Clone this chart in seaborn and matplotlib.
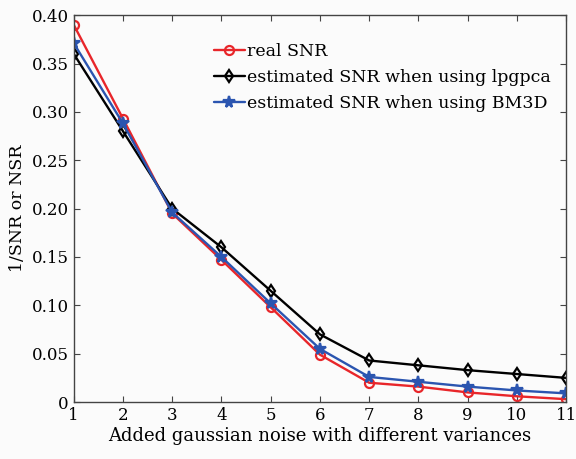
import matplotlib
matplotlib.use("Agg")
import matplotlib.pyplot as plt
import seaborn as sns
import pandas as pd

x_vals = [1, 2, 3, 4, 5, 6, 7, 8, 9, 10, 11]
real_snr = [0.390, 0.293, 0.195, 0.147, 0.098, 0.049, 0.020, 0.016, 0.010, 0.006, 0.003]
lpgpca_snr = [0.360, 0.280, 0.200, 0.160, 0.115, 0.070, 0.043, 0.038, 0.033, 0.029, 0.025]
bm3d_snr = [0.371, 0.288, 0.196, 0.150, 0.102, 0.055, 0.026, 0.021, 0.016, 0.012, 0.009]
labels = ["real SNR", "estimated SNR when using lpgpca", "estimated SNR when using BM3D"]
y_ticks = [0, 0.05, 0.10, 0.15, 0.20, 0.25, 0.30, 0.35, 0.40]
y_ticklabels = ["0", "0.05", "0.10", "0.15", "0.20", "0.25", "0.30", "0.35", "0.40"]

sns.set_style("ticks")
plt.rcParams['font.family'] = ['DejaVu Serif']
plt.rcParams['mathtext.fontset'] = 'dejavuserif'
plt.rcParams['text.color'] = 'black'
plt.rcParams['axes.labelcolor'] = 'black'
plt.rcParams['xtick.color'] = '#444444'
plt.rcParams['ytick.color'] = '#444444'
plt.rcParams['xtick.labelcolor'] = 'black'
plt.rcParams['ytick.labelcolor'] = 'black'

fig = plt.figure(figsize=(5.76, 4.59), dpi=100, facecolor="#fbfbfb")
ax = fig.add_axes([0.128, 0.124, 0.855, 0.843])
ax.set_facecolor("#fbfbfb")

series = [
    (real_snr, "#e8262a", "o", "none", 6.5),
    (lpgpca_snr, "black", "d", "none", 6.3),
    (bm3d_snr, "#2b55b0", "*", "#2b55b0", 8.5),
]
for (vals, col, mk, fc, ms), lab in zip(series, labels):
    df = pd.DataFrame({"x": x_vals, "y": vals})
    sns.lineplot(data=df, x="x", y="y", ax=ax, color=col, marker=mk,
                 markerfacecolor=fc, markeredgecolor=col, markeredgewidth=1.6,
                 markersize=ms, linewidth=1.7, label=lab)

ax.set_xlim(1, 11)
ax.set_ylim(0, 0.40)
ax.set_xticks(x_vals)
ax.set_xticklabels([str(v) for v in x_vals])
ax.set_yticks(y_ticks)
ax.set_yticklabels(y_ticklabels)
ax.tick_params(direction="in", top=True, right=True, labelsize=12, length=4)
for s in ax.spines.values():
    s.set_color("#444444")
    s.set_linewidth(1.0)
ax.set_xlabel("Added gaussian noise with different variances", fontsize=13, labelpad=2)
ax.set_ylabel("1/SNR or NSR", fontsize=12.5, labelpad=4)

leg = ax.legend(loc="upper left", bbox_to_anchor=(0.27, 0.945), frameon=False,
                fontsize=12.5, handlelength=1.8, handletextpad=0.15, labelspacing=0.5,
                borderaxespad=0)

fig.savefig("out.png", dpi=100, facecolor=fig.get_facecolor())
